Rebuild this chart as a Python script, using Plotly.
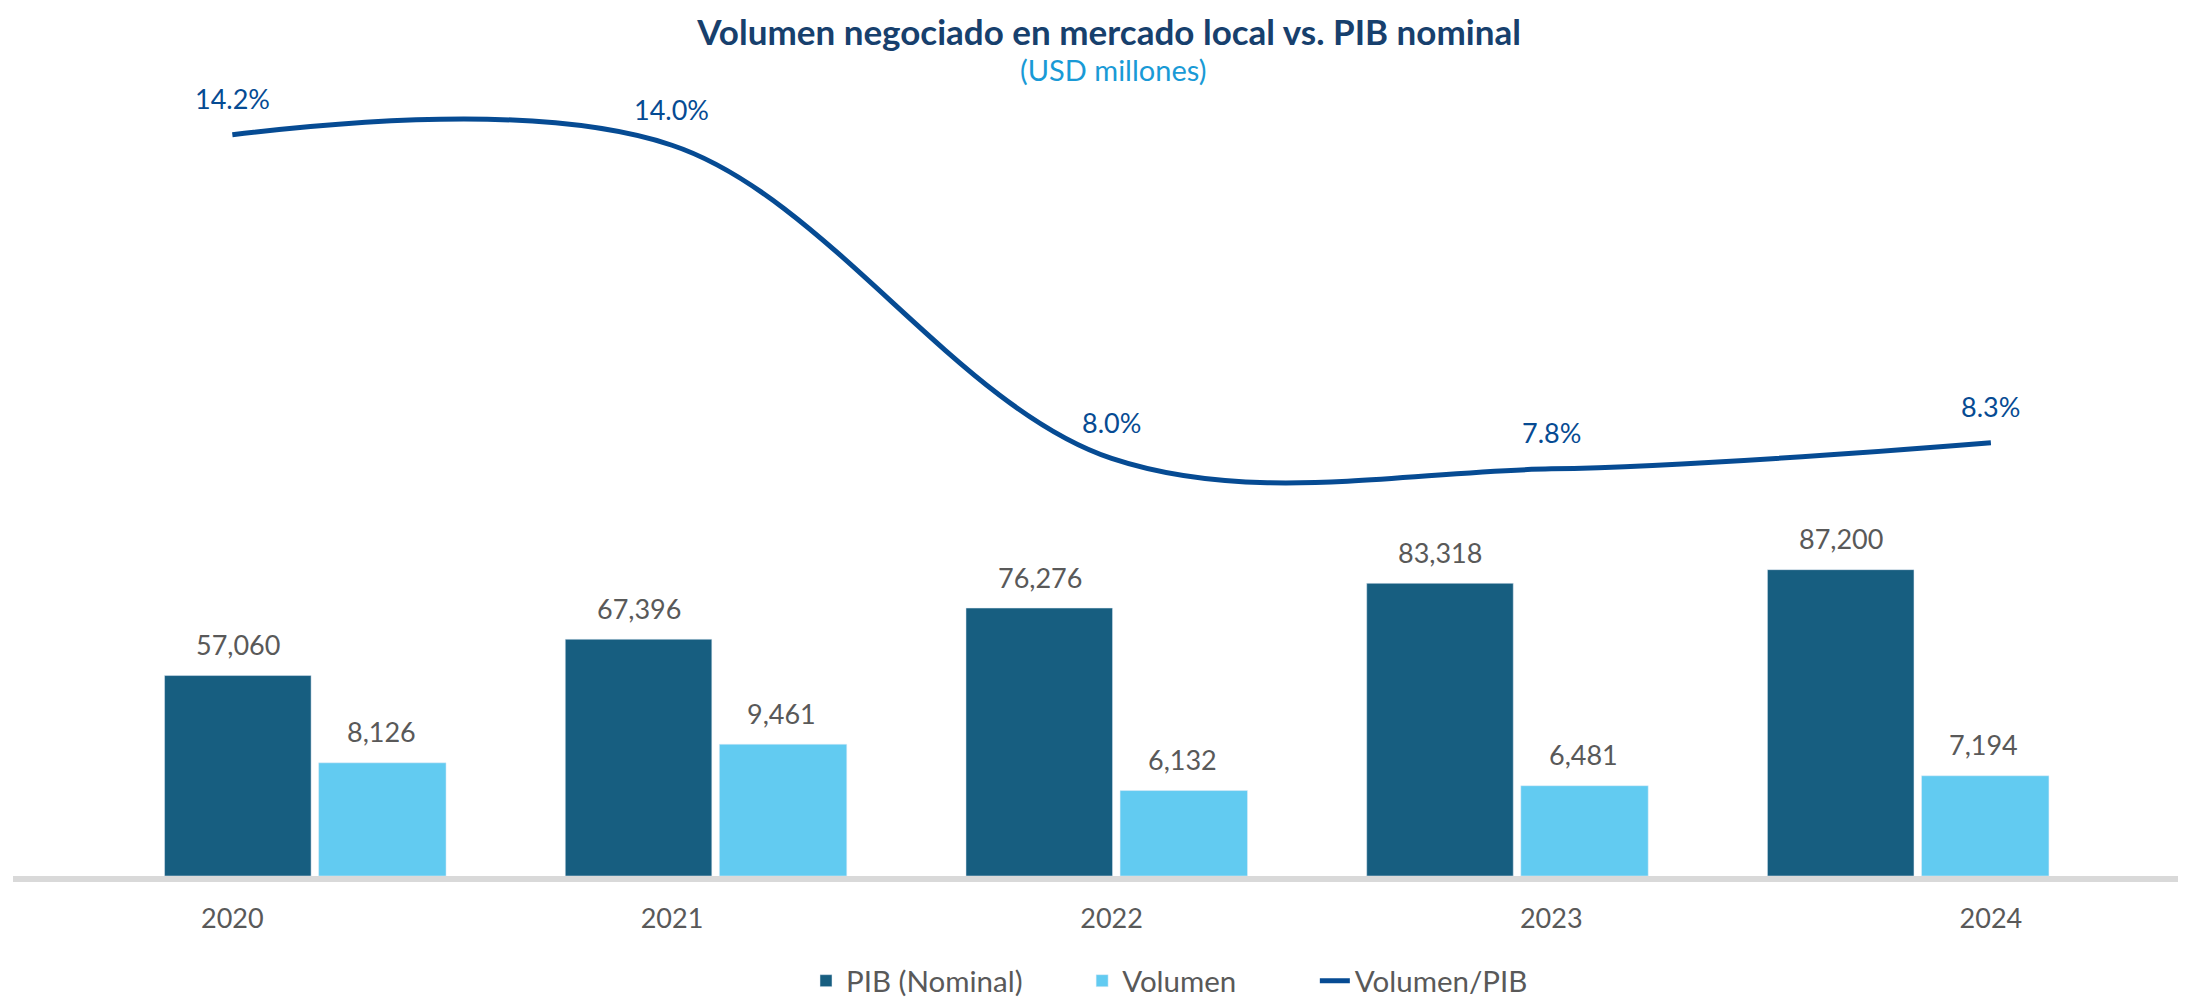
import plotly.graph_objects as go

years = ['2020', '2021', '2022', '2023', '2024']
pib = [57060, 67396, 76276, 83318, 87200]
volumen = [8126, 9461, 6132, 6481, 7194]
ratio = [0.142, 0.140, 0.080, 0.078, 0.083]

FONT = 'Lato'
GRAY = '#595959'
C_PIB = '#175e80'
C_VOL = '#62cbf1'
C_LINE = '#064b93'

fig = go.Figure()

# bars: PIB on left axis, Volumen on its own axis (scales differ like the source)
fig.add_trace(go.Bar(x=years, y=pib, name='PIB (Nominal)', marker_color=C_PIB,
                     offset=-0.3507, width=0.3657, xaxis='x', yaxis='y', legend='legend'))
fig.add_trace(go.Bar(x=years, y=volumen, name='Volumen', marker_color=C_VOL,
                     offset=0.0338, width=0.318, xaxis='x', yaxis='y2', legend='legend2'))
# ratio line on its own x/y axes
fig.add_trace(go.Scatter(x=years, y=ratio, name='Volumen/PIB', mode='lines',
                         line=dict(color=C_LINE, width=5, shape='spline', smoothing=1.0),
                         xaxis='x2', yaxis='y3', legend='legend3'))

lbl = dict(family=FONT, size=27, color=GRAY)
annos = []
for i, v in enumerate(pib):
    annos.append(dict(x=i, y=v, xref='x', yref='y', text=f'{v:,}', showarrow=False,
                      xshift=-67, yshift=31, font=lbl))
for i, v in enumerate(volumen):
    annos.append(dict(x=i, y=v, xref='x', yref='y2', text=f'{v:,}', showarrow=False,
                      xshift=76, yshift=31, font=lbl))
for i, v in enumerate(ratio):
    annos.append(dict(x=i, y=v, xref='x2', yref='y3', text=f'{v*100:.1f}%', showarrow=False,
                      yshift=36, font=dict(family=FONT, size=27, color=C_LINE)))
annos.append(dict(x=0.5044, y=0.99755, xref='paper', yref='paper', text='(USD millones)',
                  xanchor='center', yanchor='middle', showarrow=False,
                  font=dict(family=FONT, size=29, color='#199ad6')))

leg_font = dict(family=FONT, size=29.5, color=GRAY)
legy = -0.130

fig.update_layout(
    width=2186, height=999,
    margin=dict(l=5, r=0, t=60, b=124),
    paper_bgcolor='white', plot_bgcolor='white',
    title=dict(text='<b>Volumen negociado en mercado local vs. PIB nominal</b>',
               x=0.5037, xref='container', xanchor='center',
               y=0.975, yanchor='middle',
               font=dict(family=FONT, size=35, color='#17406d')),
    xaxis=dict(type='category', range=[-0.7289, 4.7138], showticklabels=False,
               showgrid=False, zeroline=False, showline=True, linecolor='#d9d9d9', linewidth=6),
    xaxis2=dict(type='category', range=[-0.4989, 4.462], overlaying='x', anchor='y', side='bottom',
                showgrid=False, zeroline=False, showline=False, ticks='',
                ticklabelstandoff=24,
                tickfont=dict(family=FONT, size=27, color=GRAY)),
    yaxis=dict(range=[0, 230000], visible=False, showgrid=False),
    yaxis2=dict(range=[0, 58000], overlaying='y', visible=False, showgrid=False),
    yaxis3=dict(range=[0, 0.1548], overlaying='y', visible=False, showgrid=False),
    showlegend=True,
    legend=dict(orientation='h', x=0.3636, xanchor='left', y=legy, yanchor='middle', font=leg_font),
    legend2=dict(orientation='h', x=0.4902, xanchor='left', y=legy, yanchor='middle', font=leg_font),
    legend3=dict(orientation='h', x=0.5969, xanchor='left', y=legy, yanchor='middle', font=leg_font),
    annotations=annos,
)

fig.write_html('out.html')
